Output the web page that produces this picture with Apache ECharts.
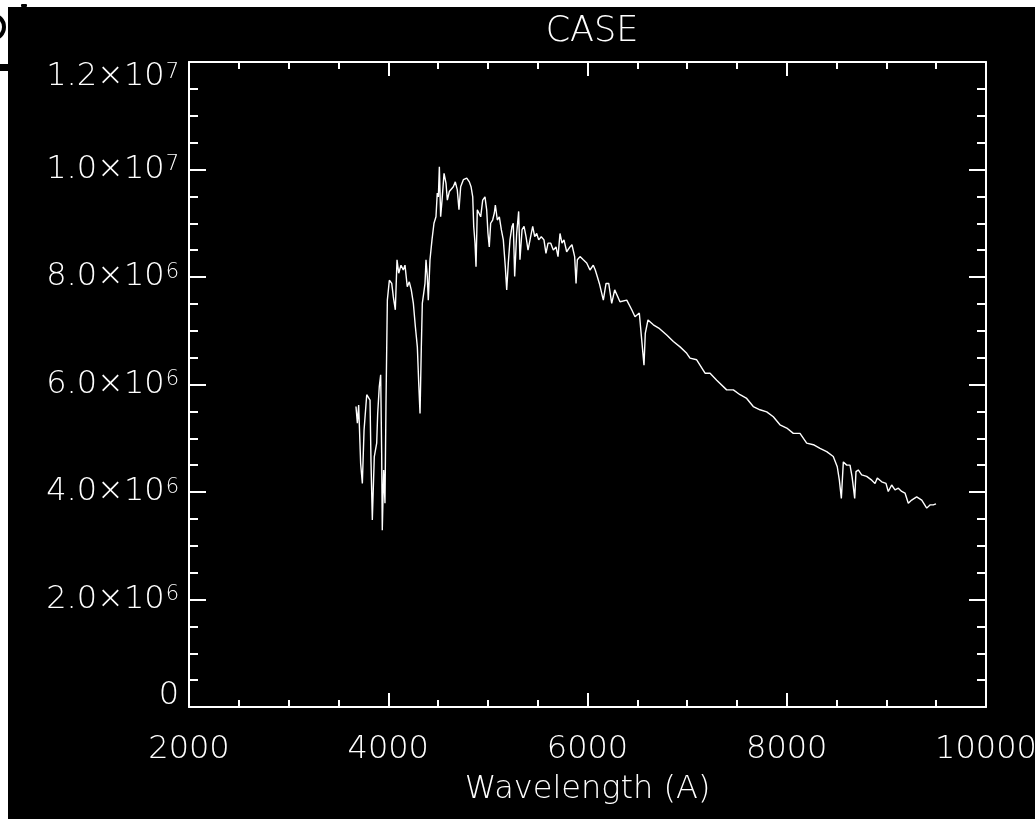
<!DOCTYPE html>
<html>
<head>
<meta charset="utf-8">
<script src="https://cdn.jsdelivr.net/npm/echarts@6/dist/echarts.min.js"></script>
<style>
html,body{margin:0;padding:0;background:#fff;}
#chart{width:1035px;height:819px;}
</style>
</head>
<body>
<div id="chart"></div>
<script>
const titleText = 'CASE';
const xAxisName = 'Wavelength (A)';
const xTicks = [2000, 4000, 6000, 8000, 10000];
const yTicks = [0, 2e6, 4e6, 6e6, 8e6, 1e7, 1.2e7];

const wavelength = [
3676,3690,3703,3723,3740,3757,3784,3817,3827,3840,
3860,3884,3894,3910,3924,3934,3940,3954,3967,3977,
3991,4011,4035,4051,4071,4088,4105,4128,4151,4168,
4191,4211,4231,4252,4272,4292,4306,4319,4332,4342,
4356,4369,4379,4392,4402,4419,4439,4459,4479,4492,
4503,4513,4526,4540,4560,4580,4593,4613,4633,4653,
4673,4693,4710,4727,4754,4788,4814,4831,4848,4858,
4871,4881,4894,4914,4928,4948,4971,4988,5001,5014,
5028,5048,5065,5075,5095,5115,5135,5155,5175,5189,
5205,5222,5242,5255,5269,5289,5309,5322,5343,5363,
5383,5403,5423,5450,5470,5490,5510,5536,5563,5583,
5604,5631,5657,5684,5704,5724,5744,5764,5791,5824,
5844,5871,5885,5898,5925,5958,5992,6025,6058,6078,6098,6119,
6159,6186,6213,6243,6273,6293,6326,6394,6444,6477,
6520,6547,6567,6580,6607,6661,6715,6795,6862,6929,
6996,7029,7096,7180,7230,7297,7397,7464,7531,7598,
7664,7731,7799,7865,7932,8000,8066,8133,8200,8267,
8334,8401,8467,8507,8528,8548,8568,8602,8635,8655,
8668,8682,8695,8718,8752,8802,8853,8886,8909,8953,
8996,9019,9053,9087,9120,9154,9187,9220,9254,9304,
9355,9405,9438,9471,9498
];

const flux = [
5.59e6,5.28e6,5.62e6,4.53e6,4.16e6,5.15e6,5.81e6,5.71e6,4.56e6,3.48e6,
4.66e6,4.91e6,5.46e6,5.96e6,6.18e6,4.72e6,3.29e6,4.41e6,3.79e6,5.59e6,
7.57e6,7.94e6,7.88e6,7.63e6,7.39e6,8.32e6,8.07e6,8.22e6,8.13e6,8.22e6,
7.82e6,7.91e6,7.76e6,7.51e6,7.08e6,6.70e6,6.02e6,5.46e6,6.70e6,7.51e6,
7.70e6,7.88e6,8.32e6,8.01e6,7.57e6,8.32e6,8.69e6,9.00e6,9.12e6,9.56e6,
9.49e6,10.05e6,9.12e6,9.43e6,9.93e6,9.74e6,9.43e6,9.59e6,9.56e6,9.68e6,
9.77e6,9.62e6,9.25e6,9.68e6,9.81e6,9.84e6,9.77e6,9.68e6,9.49e6,8.94e6,
8.63e6,8.19e6,9.25e6,9.28e6,9.12e6,9.43e6,9.49e6,9.25e6,8.81e6,8.56e6,
9.00e6,9.06e6,9.19e6,9.34e6,9.06e6,9.12e6,8.88e6,8.69e6,8.19e6,7.76e6,
8.26e6,8.69e6,8.94e6,9.00e6,8.01e6,8.81e6,9.22e6,8.32e6,8.88e6,8.94e6,
8.75e6,8.50e6,8.69e6,8.94e6,8.75e6,8.81e6,8.69e6,8.75e6,8.69e6,8.44e6,
8.63e6,8.63e6,8.50e6,8.56e6,8.38e6,8.81e6,8.63e6,8.69e6,8.47e6,8.56e6,
8.60e6,8.38e6,7.88e6,8.32e6,8.38e6,8.32e6,8.26e6,8.13e6,8.22e6,8.13e6,8.01e6,7.88e6,
7.57e6,7.88e6,7.88e6,7.51e6,7.76e6,7.73e6,7.54e6,7.57e6,7.39e6,7.26e6,
7.33e6,6.77e6,6.36e6,6.95e6,7.20e6,7.11e6,7.05e6,6.92e6,6.80e6,6.70e6,
6.58e6,6.49e6,6.46e6,6.21e6,6.21e6,6.08e6,5.90e6,5.90e6,5.81e6,5.74e6,
5.59e6,5.53e6,5.49e6,5.40e6,5.25e6,5.19e6,5.09e6,5.09e6,4.91e6,4.88e6,
4.81e6,4.75e6,4.66e6,4.47e6,4.22e6,3.88e6,4.56e6,4.50e6,4.50e6,4.29e6,
4.10e6,3.88e6,4.38e6,4.41e6,4.32e6,4.29e6,4.22e6,4.16e6,4.26e6,4.19e6,
4.16e6,4.01e6,4.13e6,4.04e6,4.07e6,4.01e6,3.98e6,3.79e6,3.85e6,3.91e6,
3.85e6,3.70e6,3.76e6,3.76e6,3.78e6
];

const FONT = '"DejaVu Sans", "Liberation Sans", sans-serif';
const FW = 200;
const FG = '#ffffff';
const LABEL_SIZE = 32;

function yLabel(v) {
  if (v === 0) return '{zero|0}';
  const e = Math.floor(Math.log10(v) + 1e-9);
  const m = v / Math.pow(10, e);
  return m.toFixed(1) + '×10{sup|' + e + '}';
}
function xLabel(v) { return String(v); }

const data = wavelength.map((w, i) => [w, flux[i]]);

const grid = { left: 189, top: 62, width: 797, height: 645, outerBoundsMode: 'none', containLabel: false };

function xAxisCfg(pos, showLabel) {
  return {
    type: 'value', position: pos, min: xTicks[0], max: xTicks[xTicks.length - 1], interval: 2000,
    axisLine: { show: true, onZero: false, lineStyle: { color: FG, width: 2 } },
    axisTick: { show: true, inside: true, length: 14, lineStyle: { color: FG, width: 2 } },
    minorTick: { show: true, splitNumber: 4, length: 7, lineStyle: { color: FG, width: 2 } },
    splitLine: { show: false }, minorSplitLine: { show: false },
    axisLabel: { show: showLabel, color: FG, fontFamily: FONT, fontWeight: FW, fontSize: LABEL_SIZE, margin: 27,
      formatter: xLabel, showMinLabel: true, showMaxLabel: true, hideOverlap: false },
    name: showLabel ? xAxisName : '', nameLocation: 'middle', nameGap: 67,
    nameTextStyle: { color: FG, fontFamily: FONT, fontWeight: FW, fontSize: LABEL_SIZE }
  };
}
function yAxisCfg(pos, showLabel) {
  return {
    type: 'value', position: pos, min: yTicks[0], max: yTicks[yTicks.length - 1], interval: 2e6,
    axisLine: { show: true, onZero: false, lineStyle: { color: FG, width: 2 } },
    axisTick: { show: true, inside: true, length: 17, lineStyle: { color: FG, width: 2 } },
    minorTick: { show: true, splitNumber: 4, length: 9, lineStyle: { color: FG, width: 2 } },
    splitLine: { show: false }, minorSplitLine: { show: false },
    axisLabel: { show: showLabel, color: FG, fontFamily: FONT, fontWeight: FW, fontSize: LABEL_SIZE, margin: 10,
      showMinLabel: true, showMaxLabel: true, hideOverlap: false, lineHeight: 30,
      verticalAlignMaxLabel: 'top',
      formatter: yLabel,
      rich: {
        sup: { fontSize: 21, fontFamily: FONT, fontWeight: FW, color: FG, verticalAlign: 'top', lineHeight: 30, padding: [0, 0, 12, 1] },
        zero: { fontSize: LABEL_SIZE, fontFamily: FONT, fontWeight: FW, color: FG, lineHeight: 30, padding: [0, 0, 22, 0] }
      } }
  };
}

const chart = echarts.init(document.getElementById('chart'), null, { renderer: 'canvas' });
chart.setOption({
  animation: false,
  backgroundColor: '#ffffff',
  title: {
    text: titleText, left: 587, top: 9, textAlign: 'center',
    textStyle: { color: FG, fontFamily: FONT, fontWeight: FW, fontSize: 35 }
  },
  graphic: [
    { type: 'rect', z: -100, silent: true, shape: { x: 8, y: 7, width: 1027, height: 812 }, style: { fill: '#000' } },
    { type: 'arc', z: -50, silent: true, shape: { cx: -8, cy: 27, r: 12, startAngle: -Math.PI / 2, endAngle: Math.PI / 2 }, style: { stroke: '#000', lineWidth: 4, fill: null } },
    { type: 'rect', z: -50, silent: true, shape: { x: 0, y: 64, width: 8, height: 7 }, style: { fill: '#000' } },
    { type: 'rect', z: -50, silent: true, shape: { x: 21, y: 4, width: 6, height: 3, r: 1 }, style: { fill: '#000' } }
  ],
  grid: grid,
  xAxis: [xAxisCfg('bottom', true), xAxisCfg('top', false)],
  yAxis: [yAxisCfg('left', true), yAxisCfg('right', false)],
  series: [{
    type: 'line', data: data, xAxisIndex: 0, yAxisIndex: 0,
    showSymbol: false, symbol: 'none', smooth: false, sampling: null,
    lineStyle: { color: FG, width: 1.4 }, z: 5
  }]
});
</script>
</body>
</html>
